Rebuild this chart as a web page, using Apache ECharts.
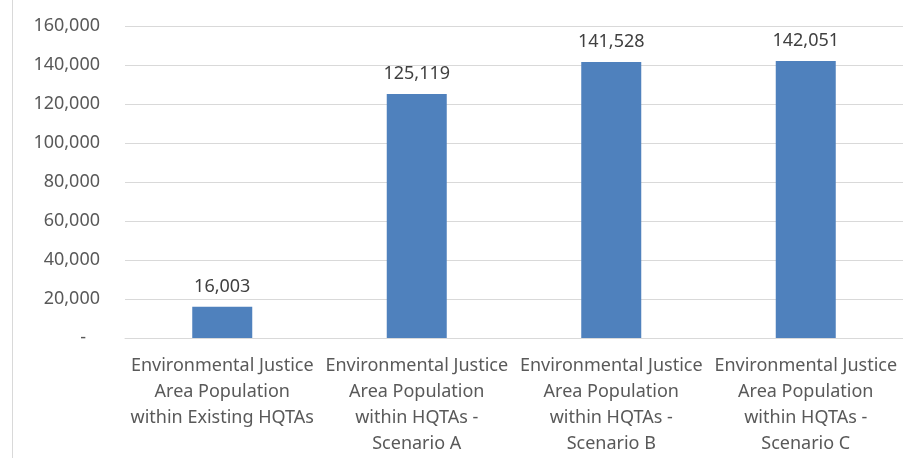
<!DOCTYPE html>
<html>
<head>
<meta charset="utf-8">
<script src="https://cdn.jsdelivr.net/npm/echarts@6/dist/echarts.min.js"></script>
<style>
  html, body { margin: 0; padding: 0; background: #fff; }
  #chart { width: 903px; height: 458px; }
</style>
</head>
<body>
<div id="chart"></div>
<script>
const categories = [
  'Environmental Justice\nArea Population\nwithin Existing HQTAs',
  'Environmental Justice\nArea Population\nwithin HQTAs -\nScenario A',
  'Environmental Justice\nArea Population\nwithin HQTAs -\nScenario B',
  'Environmental Justice\nArea Population\nwithin HQTAs -\nScenario C'
]
const population = [16003, 125119, 141528, 142051]
const yTicks = { min: 0, max: 160000, interval: 20000 }

const fmt = v => v.toLocaleString('en-US')
const font = 'Noto Sans'

const chart = echarts.init(document.getElementById('chart'))
chart.setOption({
  animation: false,
  grid: {
    left: 125,
    right: 0,
    top: 26,
    bottom: 120
  },
  graphic: [
    {
      type: 'line',
      shape: { x1: 12.5, y1: 0, x2: 12.5, y2: 458 },
      style: { stroke: '#d9d9d9', lineWidth: 1 }
    }
  ],
  xAxis: {
    type: 'category',
    data: categories,
    axisLine: { lineStyle: { color: '#d9d9d9' } },
    axisTick: { show: false },
    axisLabel: {
      interval: 0,
      margin: 15,
      color: '#595959',
      fontFamily: font,
      fontSize: 18,
      lineHeight: 26
    }
  },
  yAxis: {
    type: 'value',
    min: yTicks.min,
    max: yTicks.max,
    interval: yTicks.interval,
    axisLine: { show: false },
    axisTick: { show: false },
    splitLine: { lineStyle: { color: '#d9d9d9' } },
    axisLabel: {
      margin: 25,
      color: '#595959',
      fontFamily: font,
      fontSize: 18,
      formatter: v => (v === 0 ? '-   ' : fmt(v))
    }
  },
  series: [
    {
      type: 'bar',
      data: population,
      barWidth: 60,
      itemStyle: { color: '#4f81bd' },
      label: {
        show: true,
        position: 'top',
        distance: 11,
        color: '#404040',
        fontFamily: font,
        fontSize: 18,
        formatter: p => fmt(p.value)
      }
    }
  ]
})
</script>
</body>
</html>
